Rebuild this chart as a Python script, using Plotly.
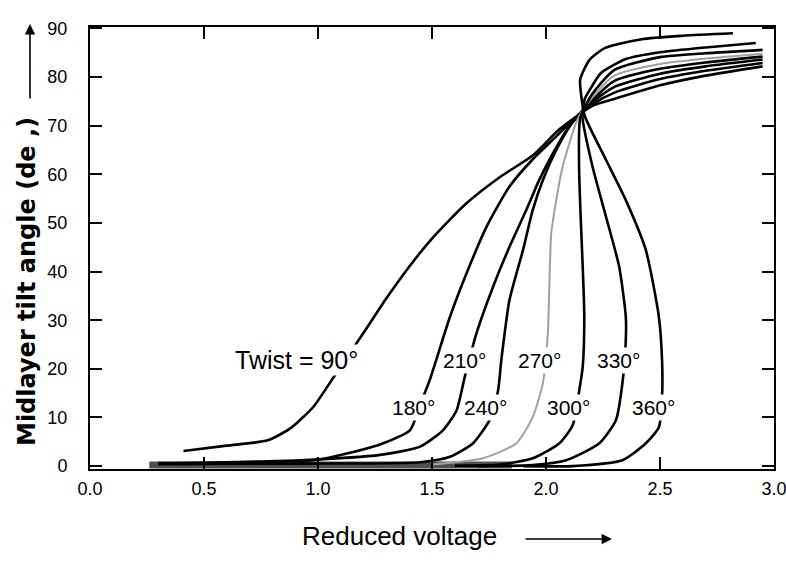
import plotly.graph_objects as go

# ---- data ----
twist_labels = ["Twist = 90°", "180°", "210°", "240°", "270°", "300°", "330°", "360°"]

v_90 = [0.41, 0.60, 0.78, 0.88, 0.98, 1.08, 1.20, 1.30, 1.40, 1.50, 1.65, 1.80, 1.94, 2.06, 2.20, 2.30, 2.50, 2.70, 2.95]
t_90 = [3.1, 4.2, 5.3, 7.8, 12.2, 19.1, 27.4, 34.5, 41.0, 46.8, 54.0, 59.5, 63.8, 69.3, 74.0, 75.5, 78.3, 80.3, 82.2]

v_180 = [0.30, 0.60, 0.98, 1.155, 1.286, 1.404, 1.447, 1.49, 1.579, 1.652, 1.739, 1.84, 1.94, 2.045, 2.10, 2.20, 2.30, 2.50, 2.70, 2.95]
t_180 = [0.6, 0.7, 1.2, 2.9, 4.7, 7.4, 12.5, 17.7, 30.7, 39.7, 49.2, 57.5, 63.0, 67.8, 70.4, 74.3, 76.8, 79.6, 81.3, 82.9]

v_210 = [0.30, 0.92, 1.273, 1.448, 1.549, 1.608, 1.644, 1.695, 1.768, 1.84, 1.914, 1.97, 2.03, 2.10, 2.20, 2.30, 2.50, 2.70, 2.95]
t_210 = [0.5, 1.2, 2.3, 4.0, 7.4, 11.5, 18.4, 27.3, 36.9, 45.1, 52.7, 58.8, 64.3, 69.8, 74.7, 78.0, 80.7, 82.2, 83.6]

v_240 = [0.30, 0.92, 1.448, 1.579, 1.68, 1.753, 1.79, 1.804, 1.84, 1.899, 1.942, 1.986, 2.045, 2.115, 2.20, 2.30, 2.50, 2.70, 2.95]
t_240 = [0.4, 0.5, 0.8, 1.9, 4.7, 9.5, 15.6, 21.8, 34.2, 44.4, 52.7, 58.8, 65.0, 70.6, 75.1, 79.2, 81.7, 83.0, 84.2]

v_270 = [1.50, 1.724, 1.87, 1.942, 1.986, 2.008, 2.015, 2.023, 2.045, 2.073, 2.14, 2.20, 2.30, 2.50, 2.70, 2.95]
t_270 = [0.3, 1.6, 4.7, 10.1, 17.0, 27.3, 37.6, 47.9, 54.7, 61.6, 71.5, 75.6, 80.3, 82.7, 83.8, 84.8]

v_300 = [1.60, 1.797, 1.942, 2.059, 2.117, 2.146, 2.161, 2.168, 2.161, 2.152, 2.145, 2.15, 2.20, 2.30, 2.50, 2.70, 2.95]
t_300 = [0.1, 0.3, 1.6, 4.7, 8.4, 15.6, 20.4, 30.7, 41.0, 51.3, 61.6, 71.5, 76.3, 81.5, 84.1, 84.9, 85.6]

v_330 = [1.70, 1.94, 2.088, 2.234, 2.307, 2.335, 2.35, 2.35, 2.321, 2.263, 2.204, 2.16, 2.17, 2.20, 2.24, 2.35, 2.50, 2.70, 2.92]
t_330 = [0.0, 0.2, 1.2, 4.7, 9.5, 17.0, 25.9, 30.7, 41.0, 51.3, 61.6, 71.8, 75.5, 78.0, 80.8, 83.7, 85.1, 86.1, 87.0]

v_360 = [1.90, 2.116, 2.335, 2.438, 2.495, 2.509, 2.509, 2.495, 2.438, 2.35, 2.263, 2.17, 2.155, 2.15, 2.19, 2.26, 2.42, 2.60, 2.82]
t_360 = [0.0, 0.0, 1.2, 4.7, 8.0, 14.2, 21.8, 30.7, 44.4, 54.7, 63.0, 72.0, 76.0, 79.5, 83.5, 86.0, 87.8, 88.5, 89.0]

# overlapping low-voltage curves (dark band along the baseline)
band_v = [0.26, 1.85]
band_t = [0.2, 0.2]

label_v = [0.906, 1.417, 1.644, 1.736, 1.97, 2.10, 2.32, 2.47]
label_t = [21.8, 12.1, 21.8, 12.1, 21.8, 12.1, 21.8, 12.1]

x_ticks = [0.0, 0.5, 1.0, 1.5, 2.0, 2.5, 3.0]
y_ticks = [0, 10, 20, 30, 40, 50, 60, 70, 80, 90]

# ---- figure ----
fig = go.Figure()

fig.add_trace(go.Scatter(x=band_v, y=band_t, mode="lines",
                         line=dict(color="#505050", width=7), hoverinfo="skip"))

curves = [(v_90, t_90), (v_180, t_180), (v_210, t_210), (v_240, t_240),
          (v_270, t_270), (v_300, t_300), (v_330, t_330), (v_360, t_360)]
for i, (vx, ty) in enumerate(curves):
    col = "#a0a0a0" if i == 4 else "black"
    w = 2.0 if i == 4 else 2.6
    fig.add_trace(go.Scatter(x=vx, y=ty, mode="lines",
                             line=dict(color=col, width=w, shape="spline", smoothing=0.6)))

SANS = "Liberation Sans, Arial, sans-serif"

for i, (txt, lx, ly) in enumerate(zip(twist_labels, label_v, label_t)):
    fig.add_annotation(x=lx, y=ly, text=txt, showarrow=False,
                       xanchor="center", yanchor="middle",
                       font=dict(family=SANS, size=25 if i == 0 else 21, color="black"),
                       bgcolor="white", borderpad=1)

L, R, T, B = 90, 12, 27, 93
W, H = 786, 562
pw, ph = W - L - R, H - T - B

def px_to_paper_x(px):
    return (px - L) / pw

def py_to_paper_y(py):
    return (H - B - py) / ph

# y-axis title and arrow
fig.add_annotation(x=px_to_paper_x(27), y=py_to_paper_y(282), xref="paper", yref="paper",
                   xanchor="center", yanchor="middle",
                   text="<b>Midlayer tilt angle (de ,)</b>", textangle=-90, showarrow=False,
                   font=dict(family="DejaVu Sans, sans-serif", size=24, color="black"))
fig.add_annotation(x=px_to_paper_x(30), y=py_to_paper_y(24), xref="paper", yref="paper",
                   ax=0, ay=76, text="", showarrow=True, arrowhead=2, arrowsize=1.3,
                   arrowwidth=1.6, arrowcolor="black")

# x-axis title and arrow
fig.add_annotation(x=px_to_paper_x(399), y=py_to_paper_y(536), xref="paper", yref="paper",
                   xanchor="center", yanchor="middle",
                   text="Reduced voltage", showarrow=False,
                   font=dict(family=SANS, size=26, color="black"))
fig.add_annotation(x=px_to_paper_x(612), y=py_to_paper_y(539), xref="paper", yref="paper",
                   ax=-88, ay=0, text="", showarrow=True, arrowhead=2, arrowsize=1.3,
                   arrowwidth=1.6, arrowcolor="black")

axis_font = dict(family=SANS, size=18, color="black")
fig.update_xaxes(range=[0, 3.0], tickvals=x_ticks, ticktext=[f"{v:.1f}" for v in x_ticks],
                 showline=True, linecolor="black", linewidth=2, mirror="allticks",
                 ticks="inside", ticklen=12, tickwidth=2, tickcolor="black",
                 showgrid=False, zeroline=False, tickfont=axis_font, ticklabelstandoff=2,
                 ticklabeloverflow="allow", automargin=False)
fig.update_yaxes(range=[-0.6, 90.3], tickvals=y_ticks, ticktext=[str(v) for v in y_ticks],
                 showline=True, linecolor="black", linewidth=2, mirror="allticks",
                 ticks="inside", ticklen=12, tickwidth=2, tickcolor="black",
                 showgrid=False, zeroline=False, tickfont=axis_font, ticklabelstandoff=17,
                 ticklabeloverflow="allow", automargin=False)

fig.update_layout(width=W, height=H, margin=dict(l=L, r=R, t=T, b=B),
                  paper_bgcolor="white", plot_bgcolor="white", showlegend=False)

fig.write_html("out.html", config={"displayModeBar": False},
               post_script="document.body.style.margin='0';")
